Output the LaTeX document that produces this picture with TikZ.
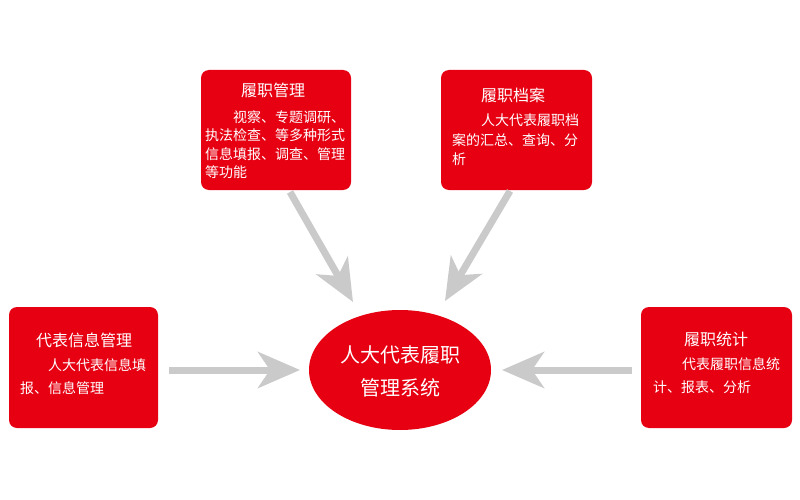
\documentclass[tikz,border=0pt]{standalone}
\usepackage{fontspec}
\setmainfont{Noto Sans CJK SC}
\usetikzlibrary{arrows.meta,shapes.geometric}
\definecolor{boxred}{RGB}{230,0,18}
\definecolor{arrgray}{RGB}{202,202,202}
\tikzset{
  redbox/.style={fill=boxred,draw=none,rounded corners=8pt,inner sep=0pt},
  ttl/.style={text=white,inner sep=0pt,anchor=base,font=\fontsize{16}{16}\selectfont},
  bodyline/.style={text=white,inner sep=0pt,anchor=base west,font=\fontsize{14}{14}\selectfont},
  ctext/.style={text=white,inner sep=0pt,anchor=base,font=\fontsize{20}{20}\selectfont},
  bigarrow/.style={draw=arrgray,line width=7pt,-{Stealth[length=42pt,width=36pt,inset=12pt]}}
}
\begin{document}
\begin{tikzpicture}[x=1pt,y=-1pt]
\useasboundingbox[fill=white] (0,0) rectangle (800,500);

% boxes
\node[redbox,minimum width=150pt,minimum height=120pt] (tl) at (276,130) {};
\node[redbox,minimum width=151pt,minimum height=120pt] (tr) at (516.5,130) {};
\node[redbox,minimum width=149pt,minimum height=121pt] (lb) at (83.5,367.5) {};
\node[redbox,minimum width=151pt,minimum height=121pt] (rb) at (716.5,367.5) {};
\node[ellipse,fill=boxred,draw=none,minimum width=182pt,minimum height=120pt,inner sep=0pt] (sys) at (400,370) {};

% top-left text
\node[ttl] (tlT) at (273,96.8) {履职管理};
\node[bodyline] (tl1) at (205,122.3) {\hspace*{28pt}视察、专题调研、};
\node[bodyline] (tl2) at (205,140.8) {执法检查、等多种形式};
\node[bodyline] (tl3) at (205,159.3) {信息填报、调查、管理};
\node[bodyline] (tl4) at (205,177.8) {等功能};

% top-right text
\node[ttl] (trT) at (513,101.4) {履职档案};
\node[bodyline] (tr1) at (452,125.8) {\hspace*{29pt}人大代表履职档};
\node[bodyline] (tr2) at (452,145.3) {案的汇总、查询、分};
\node[bodyline] (tr3) at (452,164.8) {析};

% left text
\node[ttl] (lbT) at (84,346.8) {代表信息管理};
\node[bodyline] (lb1) at (20,370.3) {\hspace*{28pt}人大代表信息填};
\node[bodyline] (lb2) at (20,393.3) {报、信息管理};

% right text
\node[ttl] (rbT) at (716,345.1) {履职统计};
\node[bodyline] (rb1) at (653,369.3) {\hspace*{29pt}代表履职信息统};
\node[bodyline] (rb2) at (653,392.3) {计、报表、分析};

% centre text
\node[ctext] (sys1) at (400,362.6) {人大代表履职};
\node[ctext] (sys2) at (400,395.9) {管理系统};

% arrow ends
\coordinate (aTLs) at (290,192);
\coordinate (aTLe) at (353,302);
\coordinate (aTRs) at (510,191);
\coordinate (aTRe) at (445,301);
\coordinate (aLs) at (169,370);
\coordinate (aLe) at (300,370);
\coordinate (aRs) at (632,370);
\coordinate (aRe) at (502,370);

\draw[bigarrow] (aTLs) -- (aTLe);
\draw[bigarrow] (aTRs) -- (aTRe);
\draw[bigarrow] (aLs) -- (aLe);
\draw[bigarrow] (aRs) -- (aRe);
\end{tikzpicture}
\end{document}
